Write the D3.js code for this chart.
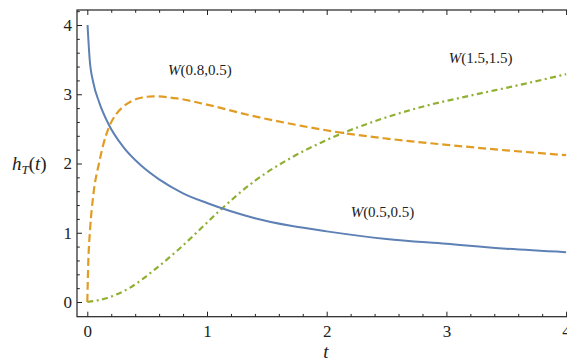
<!DOCTYPE html>
<html><head><meta charset="utf-8">
<script src="https://cdn.jsdelivr.net/npm/d3@7"></script>
<style>body{margin:0;background:#fff;overflow:hidden}</style>
</head><body><svg id="c" width="567" height="362"></svg>
<script>
// ---- data ----
const seriesNames = ["W(0.5,0.5)", "W(0.8,0.5)", "W(1.5,1.5)"];
const tBlue = [0.002, 0.02, 0.05, 0.1, 0.18, 0.3, 0.45, 0.6, 0.8, 1.0, 1.2, 1.4, 1.7, 2.0, 2.5, 3.0, 3.5, 4.0];
const hBlue = [4.0, 3.5, 3.17, 2.88, 2.56, 2.24, 1.97, 1.77, 1.57, 1.43, 1.31, 1.21, 1.10, 1.02, 0.91, 0.84, 0.77, 0.72];
const tOrange = [0, 0.008, 0.023, 0.05, 0.1, 0.13, 0.18, 0.24, 0.3, 0.37, 0.45, 0.55, 0.75, 1.0, 1.4, 1.8, 2.14, 2.5, 3.0, 3.5, 4.0];
const hOrange = [0, 0.56, 1.04, 1.54, 2.02, 2.25, 2.52, 2.71, 2.82, 2.90, 2.95, 2.97, 2.94, 2.85, 2.68, 2.54, 2.44, 2.36, 2.27, 2.19, 2.12];
const tGreen = [0, 0.15, 0.35, 0.55, 0.75, 0.9, 1.1, 1.4, 1.7, 2.0, 2.4, 2.8, 3.2, 3.6, 4.0];
const hGreen = [0, 0.05, 0.2, 0.45, 0.74, 0.98, 1.31, 1.75, 2.08, 2.34, 2.61, 2.82, 2.98, 3.13, 3.29];
const xTicks = [0, 1, 2, 3, 4];
const yTicks = [0, 1, 2, 3, 4];
const labelPos = [[2.2, 1.227], [0.674, 3.28], [3.02, 3.455]]; // data coords of label starts

// ---- layout ----
const frame = {left: 77, top: 10, bottom: 316.7, right: 580};
const colors = ["#5E81B5", "#E19C24", "#8FB032"];
const dashes = [null, "8,4", "6,3.5,2,3.5"];

const x = d3.scaleLinear().domain([0, 4]).range([87.3, 566.1]);
const y = d3.scaleLinear().domain([0, 4]).range([302, 25]);

const svg = d3.select("#c");
svg.append("defs").append("clipPath").attr("id", "clip")
  .append("rect").attr("x", frame.left).attr("y", frame.top)
  .attr("width", frame.right - frame.left).attr("height", frame.bottom - frame.top);

const series = [
  tBlue.map((t, i) => [t, hBlue[i]]),
  tOrange.map((t, i) => [t, hOrange[i]]),
  tGreen.map((t, i) => [t, hGreen[i]])
];
const line = d3.line().x(d => x(d[0])).y(d => y(d[1])).curve(d3.curveMonotoneX);

const g = svg.append("g").attr("clip-path", "url(#clip)");
[2, 1, 0].forEach(i => {
  g.append("path").attr("d", line(series[i]))
    .attr("fill", "none").attr("stroke", colors[i])
    .attr("stroke-width", i === 0 ? 2 : 2.2)
    .attr("stroke-dasharray", dashes[i]);
});

const xMinor = d3.range(0, 4.01, 0.2).map(v => +v.toFixed(2)).filter(v => !xTicks.includes(v));
const yMinor = d3.range(0, 4.21, 0.2).map(v => +v.toFixed(2)).filter(v => !yTicks.includes(v));

const font = "'Liberation Serif', 'Times New Roman', 'DejaVu Serif', serif";
function styleAxis(sel) {
  sel.select(".domain").remove();
  sel.selectAll("line").attr("stroke", "#222").attr("stroke-width", 1);
  sel.selectAll("text").attr("font-family", font).attr("font-size", 17).attr("fill", "#222");
}
svg.append("g").attr("transform", `translate(${frame.left},0)`)
  .call(d3.axisLeft(y).tickValues(yTicks).tickSize(-5).tickPadding(5).tickFormat(d3.format("d"))).call(styleAxis);
svg.append("g").attr("transform", `translate(${frame.left},0)`)
  .call(d3.axisLeft(y).tickValues(yMinor).tickSize(-2.8).tickFormat("")).call(styleAxis);
svg.append("g").attr("transform", `translate(0,${frame.bottom})`)
  .call(d3.axisBottom(x).tickValues(xTicks).tickSize(-5).tickPadding(8).tickFormat(d3.format("d"))).call(styleAxis);
svg.append("g").attr("transform", `translate(0,${frame.bottom})`)
  .call(d3.axisBottom(x).tickValues(xMinor).tickSize(-2.8).tickFormat("")).call(styleAxis);
svg.append("g").attr("transform", `translate(0,${frame.top})`)
  .call(d3.axisTop(x).tickValues(xTicks).tickSize(-5).tickFormat("")).call(styleAxis);
svg.append("g").attr("transform", `translate(0,${frame.top})`)
  .call(d3.axisTop(x).tickValues(xMinor).tickSize(-2.8).tickFormat("")).call(styleAxis);

svg.append("rect").attr("x", frame.left).attr("y", frame.top)
  .attr("width", frame.right - frame.left).attr("height", frame.bottom - frame.top)
  .attr("fill", "none").attr("stroke", "#222").attr("stroke-width", 1.2);

seriesNames.forEach((name, i) => {
  const m = name.match(/^W(.*)$/);
  const t = svg.append("text").attr("x", x(labelPos[i][0])).attr("y", y(labelPos[i][1]))
    .attr("font-family", font).attr("font-size", 15).attr("fill", "#222");
  t.append("tspan").attr("font-style", "italic").text("W");
  t.append("tspan").text(m[1]);
});

svg.append("text").attr("x", 326).attr("y", 358).attr("text-anchor", "middle")
  .attr("font-family", font).attr("font-size", 19).attr("font-style", "italic").attr("fill", "#222").text("t");
const yt = svg.append("text").attr("x", 12).attr("y", 170)
  .attr("font-family", font).attr("font-size", 19).attr("fill", "#222");
yt.append("tspan").attr("font-style", "italic").text("h");
yt.append("tspan").attr("font-style", "italic").attr("font-size", 13).attr("dy", 4).text("T");
yt.append("tspan").attr("dy", -4).text("(");
yt.append("tspan").attr("font-style", "italic").text("t");
yt.append("tspan").text(")");
</script></body></html>
